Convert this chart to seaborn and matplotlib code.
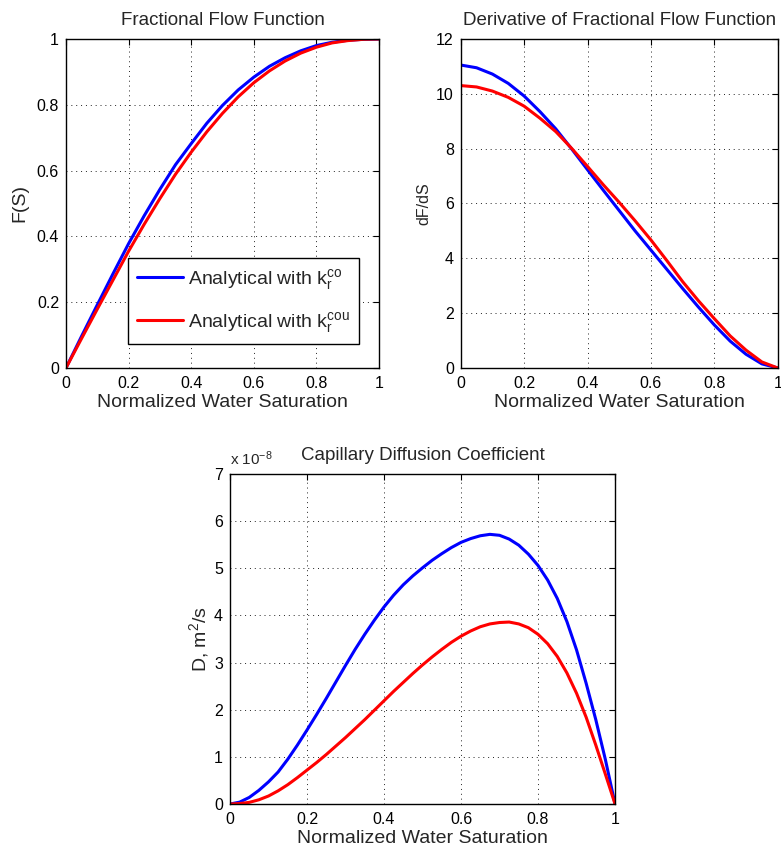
import numpy as np
import pandas as pd
import matplotlib
matplotlib.use("Agg")
import matplotlib.pyplot as plt
import seaborn as sns
from matplotlib.ticker import FuncFormatter

# ---------------- data ----------------
S = [0.00, 0.05, 0.10, 0.15, 0.20, 0.25, 0.30, 0.35, 0.40, 0.45, 0.50,
     0.55, 0.60, 0.65, 0.70, 0.75, 0.80, 0.85, 0.90, 0.95, 1.00]

F_co = [0.000, 0.097, 0.192, 0.286, 0.378, 0.463, 0.543, 0.618, 0.682, 0.744, 0.798,
        0.845, 0.884, 0.917, 0.943, 0.964, 0.980, 0.990, 0.996, 0.999, 1.000]
F_cou = [0.000, 0.090, 0.179, 0.267, 0.355, 0.437, 0.515, 0.589, 0.656, 0.718, 0.774,
         0.824, 0.867, 0.903, 0.933, 0.957, 0.975, 0.988, 0.995, 0.999, 1.000]

dF_co = [11.05, 10.95, 10.72, 10.38, 9.92, 9.35, 8.72, 7.99, 7.23, 6.48, 5.74,
         5.00, 4.30, 3.60, 2.90, 2.22, 1.57, 0.98, 0.50, 0.15, 0.00]
dF_cou = [10.30, 10.25, 10.10, 9.87, 9.55, 9.11, 8.62, 8.01, 7.35, 6.68, 6.04,
          5.37, 4.67, 3.92, 3.15, 2.45, 1.80, 1.17, 0.65, 0.22, 0.00]

S_D = [0.000, 0.025, 0.050, 0.075, 0.100, 0.125, 0.150, 0.175, 0.200, 0.225,
       0.250, 0.275, 0.300, 0.325, 0.350, 0.375, 0.400, 0.425, 0.450, 0.475,
       0.500, 0.525, 0.550, 0.575, 0.600, 0.625, 0.650, 0.675, 0.700, 0.725,
       0.750, 0.775, 0.800, 0.825, 0.850, 0.875, 0.900, 0.925, 0.950, 0.975, 1.000]
# capillary diffusion coefficient, in units of 1e-8 m^2/s
D_co = [0.00, 0.04, 0.14, 0.29, 0.47, 0.68, 0.95, 1.25, 1.57, 1.90,
        2.24, 2.59, 2.94, 3.28, 3.60, 3.90, 4.18, 4.43, 4.65, 4.84,
        5.01, 5.17, 5.31, 5.44, 5.55, 5.63, 5.69, 5.72, 5.70, 5.62,
        5.49, 5.30, 5.06, 4.75, 4.36, 3.87, 3.27, 2.56, 1.79, 0.94, 0.00]
D_cou = [0.00, 0.01, 0.035, 0.09, 0.17, 0.28, 0.41, 0.56, 0.72, 0.88,
         1.05, 1.23, 1.41, 1.60, 1.79, 1.99, 2.19, 2.39, 2.58, 2.77,
         2.95, 3.12, 3.28, 3.43, 3.56, 3.67, 3.76, 3.82, 3.85, 3.86,
         3.82, 3.74, 3.60, 3.40, 3.13, 2.78, 2.35, 1.84, 1.25, 0.63, 0.00]

LAB_CO = r"Analytical with $\mathregular{k_r^{co}}$"
LAB_COU = r"Analytical with $\mathregular{k_r^{cou}}$"

# ---------------- style ----------------
sns.set_theme(style="white")
plt.rcParams["font.family"] = ["Liberation Sans", "DejaVu Sans"]
plt.rcParams["mathtext.fontset"] = "custom"
plt.rcParams["mathtext.rm"] = "Liberation Sans"
plt.rcParams["mathtext.it"] = "Liberation Sans"
plt.rcParams["mathtext.bf"] = "Liberation Sans"

palette = {LAB_CO: "#0000ff", LAB_COU: "#ff0000"}

def long_df(x, a, b):
    return pd.DataFrame({
        "S": list(x) + list(x),
        "val": list(a) + list(b),
        "model": [LAB_CO] * len(x) + [LAB_COU] * len(x),
    })

fig = plt.figure(figsize=(7.81, 8.51), dpi=100)
ax1 = fig.add_axes([0.0845, 0.5676, 0.4008, 0.3866])
ax2 = fig.add_axes([0.5899, 0.5676, 0.4059, 0.3866])
ax3 = fig.add_axes([0.2945, 0.0552, 0.4930, 0.3878])

fmt = FuncFormatter(lambda v, p: ("%g" % round(v, 6)))
FS = 14
FT = 13.5

def style(ax, ymax, ystep):
    ax.set_xlim(0, 1)
    ax.set_ylim(0, ymax)
    ax.set_xticks(np.arange(0, 1.0001, 0.2))
    ax.set_yticks(np.arange(0, ymax + 1e-9, ystep))
    ax.xaxis.set_major_formatter(fmt)
    ax.yaxis.set_major_formatter(fmt)
    ax.grid(True, color="#222222", linestyle=(0, (1, 4)), linewidth=0.7)
    ax.tick_params(direction="in", top=True, right=True, length=4, width=0.8,
                   labelsize=11.5, colors="black")
    ax.tick_params(axis="x", pad=6)
    ax.tick_params(axis="y", pad=5)
    for sp in ax.spines.values():
        sp.set_visible(True)
        sp.set_color("black")
        sp.set_linewidth(1.0)
    ax.set_facecolor("white")

# --- Fractional flow ---
sns.lineplot(data=long_df(S, F_co, F_cou), x="S", y="val", hue="model",
             palette=palette, linewidth=2.2, ax=ax1, legend=True)
style(ax1, 1, 0.2)
ax1.set_title("Fractional Flow Function", fontsize=FT, pad=10)
ax1.set_xlabel("Normalized Water Saturation", fontsize=FS, labelpad=2)
ax1.set_ylabel("F(S)", fontsize=FS, labelpad=6)
leg = ax1.legend(loc="lower right", bbox_to_anchor=(0.936, 0.073), fontsize=14,
                 frameon=True, fancybox=False, framealpha=1, edgecolor="black",
                 handlelength=2.4, handletextpad=0.25, labelspacing=0.95,
                 borderpad=0.45, borderaxespad=0.0, title=None)
leg.get_frame().set_linewidth(1.0)

# --- Derivative ---
sns.lineplot(data=long_df(S, dF_co, dF_cou), x="S", y="val", hue="model",
             palette=palette, linewidth=2.2, ax=ax2, legend=False)
style(ax2, 12, 2)
ax2.set_title("Derivative of Fractional Flow Function", fontsize=FT, pad=10)
ax2.set_xlabel("Normalized Water Saturation", fontsize=FS, labelpad=2)
ax2.set_ylabel("dF/dS", fontsize=11.5, labelpad=3)

# --- Capillary diffusion ---
sns.lineplot(data=long_df(S_D, D_co, D_cou), x="S", y="val", hue="model",
             palette=palette, linewidth=2.2, ax=ax3, legend=False)
style(ax3, 7, 1)
ax3.set_title("Capillary Diffusion Coefficient", fontsize=FT, pad=10)
ax3.set_xlabel("Normalized Water Saturation", fontsize=FS, labelpad=2)
ax3.set_ylabel(r"D, m$^2$/s", fontsize=FS, labelpad=2)
ax3.text(0.0, 1.018, r"x 10$^{-8}$", transform=ax3.transAxes, fontsize=11,
         ha="left", va="bottom")

fig.savefig("out.png", dpi=100, facecolor="white")
